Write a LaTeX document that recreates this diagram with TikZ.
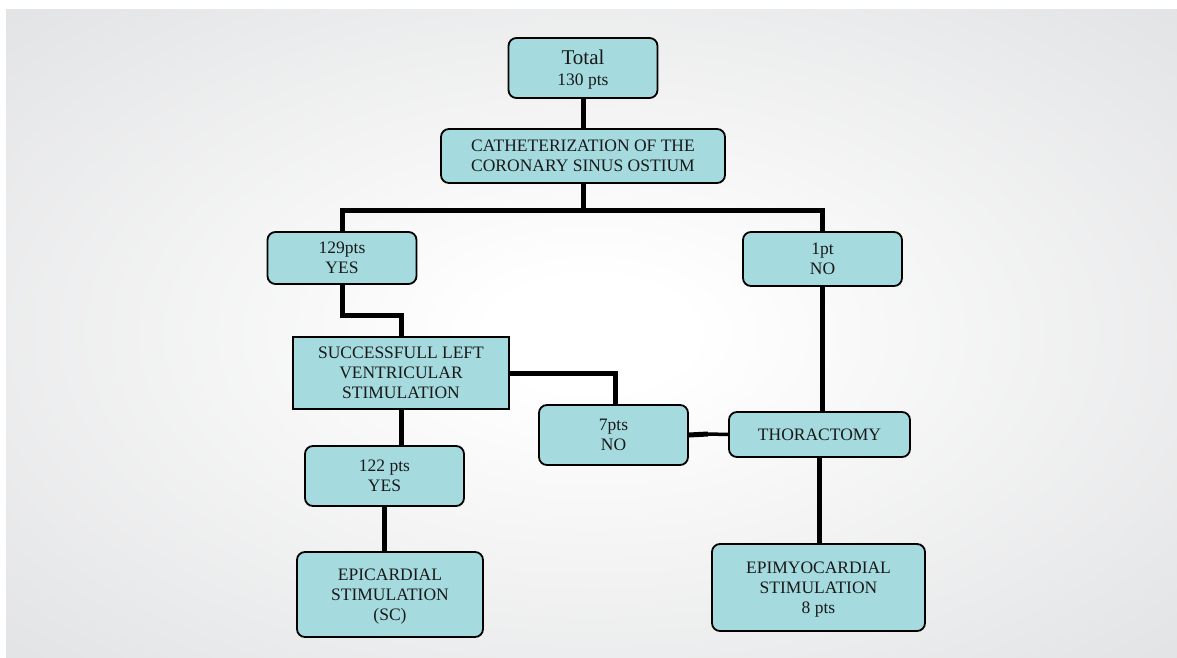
\documentclass[tikz,border=0pt]{standalone}
\usepackage{fontspec}
\setmainfont{Liberation Serif}
\definecolor{bgedge}{RGB}{216,217,219}
\definecolor{bgcorner}{RGB}{204,205,207}
\definecolor{boxfill}{RGB}{165,218,222}
\definecolor{txt}{RGB}{25,25,25}
\pgfdeclareradialshading{bgshade}{\pgfpoint{0bp}{0bp}}{color(0bp)=(white); color(3bp)=(white); color(33bp)=(bgedge); color(50bp)=(bgcorner)}
\tikzset{
  box/.style={draw=black, line width=1.8pt, fill=boxfill, rounded corners=8pt, inner sep=0pt,
    align=center, text=txt, font=\fontsize{17.5}{20}\selectfont, text depth=0pt},
  sharpbox/.style={box, rounded corners=0pt},
  conn/.style={draw=black, line width=5pt},
}
\begin{document}
\begin{tikzpicture}[x=1pt,y=-1pt]
\useasboundingbox (0,0) rectangle (1177,658);
\begin{scope}
  \clip (6,10) rectangle (1177,658);
  \shade[shading=bgshade] (591.5-830,334-465) rectangle (591.5+830,334+465);
\end{scope}

\node[box, minimum width=149pt, minimum height=60pt] (total) at (583,68)
  {{\fontsize{21}{22}\selectfont Total}\\[1pt]130 pts};
\node[box, minimum width=284pt, minimum height=54pt] (cath) at (583,156)
  {CATHETERIZATION OF THE\\CORONARY SINUS OSTIUM};
\node[box, minimum width=149pt, minimum height=52pt] (n129) at (342,258) {129pts\\YES};
\node[box, minimum width=159pt, minimum height=54pt] (n1) at (822.5,259) {1pt\\NO};
\node[sharpbox, minimum width=216pt, minimum height=72pt] (slv) at (401,373)
  {SUCCESSFULL LEFT\\VENTRICULAR\\STIMULATION};
\node[box, minimum width=149pt, minimum height=60pt] (n7) at (613.5,435) {7pts\\NO};
\node[box, minimum width=181pt, minimum height=45pt] (thor) at (819.5,434.5) {THORACTOMY};
\node[box, minimum width=159pt, minimum height=60pt] (n122) at (384.5,476) {122 pts\\YES};
\node[box, minimum width=186pt, minimum height=85pt] (epi) at (390,594.5)
  {EPICARDIAL\\STIMULATION\\(SC)};
\node[box, minimum width=213pt, minimum height=87pt] (epimyo) at (818.5,587.5)
  {EPIMYOCARDIAL\\STIMULATION\\8 pts};

\coordinate (bar) at (583,210);
\coordinate (mid7) at (708,434);

\draw[conn] (total.south) -- (cath.north);
\draw[conn] (cath.south) -- (bar);
\draw[conn] (n129.north) |- (bar) -| (n1.north);
\draw[conn] (n129.south) -- ++(0,31) -| (slv.north);
\draw[conn] (slv.east) -| ([xshift=2pt]n7.north);
\draw[conn] (n7.east) -- (mid7);
\draw[conn, line width=3.5pt] (mid7) -- (thor.west);
\draw[conn] (n1.south) -- (n1.south |- thor.north);
\draw[conn] (thor.south) -- (thor.south |- epimyo.north);
\draw[conn] (slv.south) -- (slv.south |- n122.north);
\draw[conn] (n122.south) -- (n122.south |- epi.north);
\end{tikzpicture}
\end{document}
